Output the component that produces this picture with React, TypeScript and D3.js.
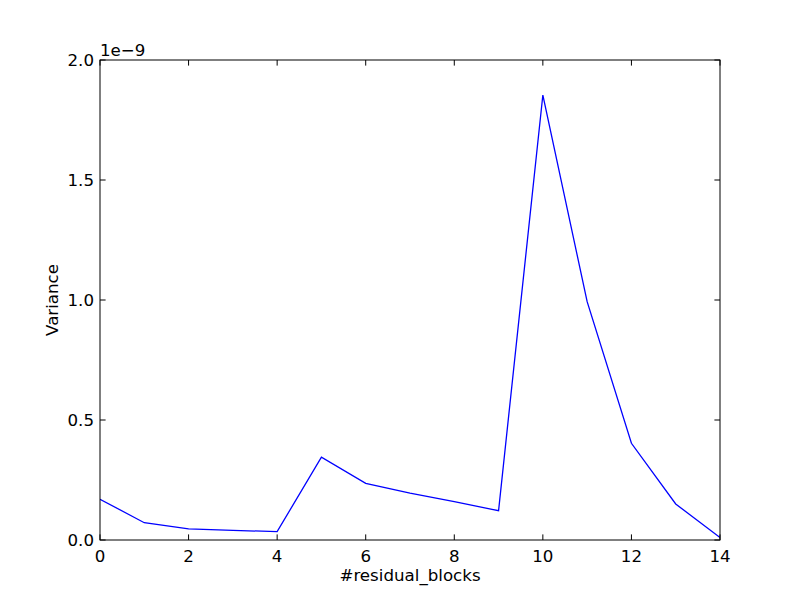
import React from "react";
import * as d3 from "d3";

const blocks = [0, 1, 2, 3, 4, 5, 6, 7, 8, 9, 10, 11, 12, 13, 14];
const variance = [0.17, 0.072, 0.046, 0.04, 0.035, 0.345, 0.236, 0.195, 0.16, 0.122, 1.854, 0.993, 0.403, 0.15, 0.01];
const xTicks = [0, 2, 4, 6, 8, 10, 12, 14];
const yTicks = [0, 0.5, 1.0, 1.5, 2.0];

const W = 800, H = 600;
const L = 100, R = 720, T = 60, B = 540;
const FONT = "'DejaVu Sans', sans-serif";
const FS = 16.67;

export default function App() {
  const x = d3.scaleLinear().domain([0, 14]).range([L, R]);
  const y = d3.scaleLinear().domain([0, 2]).range([B, T]);
  const line = d3.line<number>().x((_, i) => x(blocks[i])).y((d) => y(d));
  const tl = 5.6;
  return (
    <svg width={W} height={H} style={{ position: "absolute", left: 0, top: 0, background: "#fff" }}>
      <rect x={0} y={0} width={W} height={H} fill="#fff" />
      <defs>
        <clipPath id="c"><rect x={L} y={T} width={R - L} height={B - T} /></clipPath>
      </defs>
      <path d={line(variance) || ""} fill="none" stroke="#0000ff" strokeWidth={1.3} clipPath="url(#c)" />
      {xTicks.map((t) => (
        <g key={"x" + t}>
          <line x1={x(t)} x2={x(t)} y1={B} y2={B - tl} stroke="#000" strokeWidth={1} />
          <line x1={x(t)} x2={x(t)} y1={T} y2={T + tl} stroke="#000" strokeWidth={1} />
          <text x={x(t)} y={B + 6} dy="0.95em" textAnchor="middle" fontFamily={FONT} fontSize={FS}>{t}</text>
        </g>
      ))}
      {yTicks.map((t) => (
        <g key={"y" + t}>
          <line x1={L} x2={L + tl} y1={y(t)} y2={y(t)} stroke="#000" strokeWidth={1} />
          <line x1={R} x2={R - tl} y1={y(t)} y2={y(t)} stroke="#000" strokeWidth={1} />
          <text x={L - 6} y={y(t)} dy="0.35em" textAnchor="end" fontFamily={FONT} fontSize={FS}>{t.toFixed(1)}</text>
        </g>
      ))}
      <rect x={L} y={T} width={R - L} height={B - T} fill="none" stroke="#000" strokeWidth={1} />
      <text x={L} y={56} fontFamily={FONT} fontSize={FS}>1e−9</text>
      <text x={(L + R) / 2} y={581} textAnchor="middle" fontFamily={FONT} fontSize={FS}>#residual_blocks</text>
      <text transform={`translate(58,${(T + B) / 2}) rotate(-90)`} textAnchor="middle" fontFamily={FONT} fontSize={FS}>Variance</text>
    </svg>
  );
}
